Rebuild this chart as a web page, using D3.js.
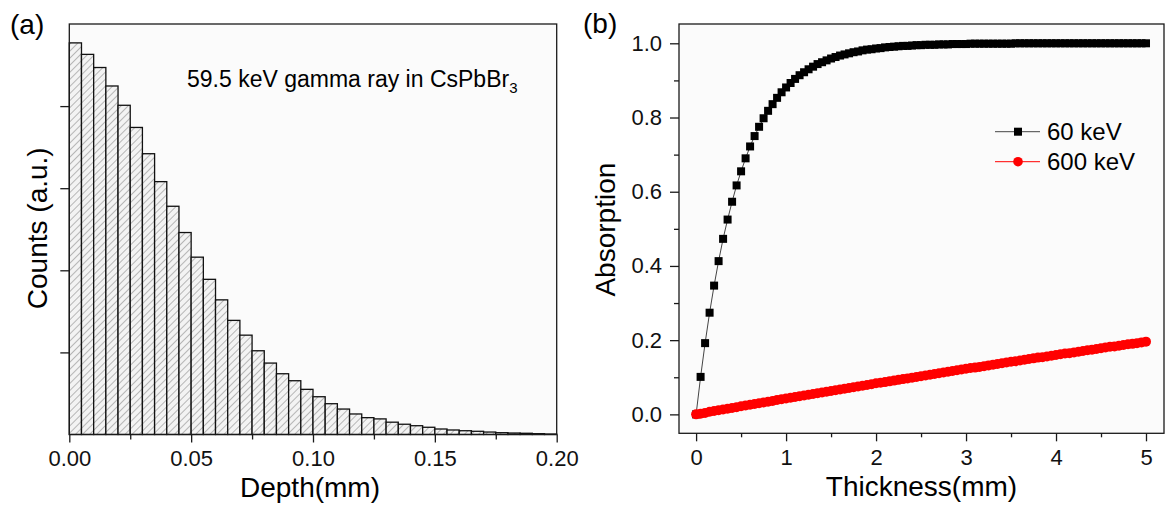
<!DOCTYPE html>
<html><head><meta charset="utf-8">
<script src="https://cdn.jsdelivr.net/npm/d3@7"></script>
<style>
html,body{margin:0;padding:0;background:#fff;}
svg{display:block;font-family:"Liberation Sans",Arial,sans-serif;}
</style></head><body>
<svg id="chart" width="1165" height="506"></svg>
<script>
// ---------- Panel (a) data ----------
const binWidth = 0.005;
const binStarts = d3.range(40).map(i => +(i * binWidth).toFixed(3));
const counts = [4.77, 4.63, 4.47, 4.245, 4.01, 3.74, 3.42, 3.08, 2.78, 2.46,
                2.16, 1.89, 1.64, 1.39, 1.21, 1.02, 0.87, 0.74, 0.655, 0.55,
                0.46, 0.375, 0.31, 0.25, 0.205, 0.19, 0.15, 0.125, 0.107, 0.088,
                0.067, 0.055, 0.046, 0.039, 0.030, 0.022, 0.018, 0.015, 0.010, 0.006];
const depthTicks = [0, 0.05, 0.10, 0.15, 0.20];
const depthMinorTicks = [0.025, 0.075, 0.125, 0.175];
const countTicks = [1, 2, 3, 4];

// ---------- Panel (b) data ----------
const thickness = d3.range(101).map(i => +(i * 0.05).toFixed(2));
const abs60 = [0, 0.101, 0.192, 0.274, 0.347, 0.413, 0.473, 0.525, 0.573, 0.617,
  0.655, 0.690, 0.722, 0.750, 0.775, 0.798, 0.818, 0.836, 0.853, 0.868,
  0.881, 0.893, 0.904, 0.914, 0.922, 0.930, 0.937, 0.944, 0.949, 0.954,
  0.959, 0.963, 0.967, 0.970, 0.973, 0.976, 0.978, 0.981, 0.983, 0.984,
  0.986, 0.987, 0.989, 0.990, 0.991, 0.992, 0.993, 0.993, 0.994, 0.995,
  0.995, 0.996, 0.996, 0.996, 0.997, 0.997, 0.997, 0.998, 0.998, 0.998,
  0.998, 0.999, 0.999, 0.999, 0.999, 0.999, 0.999, 0.999, 0.999, 0.999,
  0.999, 1.000, 1.000, 1.000, 1.000, 1.000, 1.000, 1.000, 1.000, 1.000,
  1.000, 1.000, 1.000, 1.000, 1.000, 1.000, 1.000, 1.000, 1.000, 1.000,
  1.000, 1.000, 1.000, 1.000, 1.000, 1.000, 1.000, 1.000, 1.000, 1.000, 1.000];
const abs600 = [0.000, 0.002, 0.004, 0.007, 0.009, 0.011, 0.013, 0.015, 0.017, 0.019,
  0.022, 0.024, 0.026, 0.028, 0.030, 0.032, 0.034, 0.036, 0.039, 0.041,
  0.043, 0.045, 0.047, 0.049, 0.051, 0.053, 0.055, 0.057, 0.059, 0.061,
  0.063, 0.065, 0.067, 0.069, 0.071, 0.073, 0.075, 0.077, 0.079, 0.081,
  0.084, 0.085, 0.087, 0.089, 0.091, 0.093, 0.095, 0.097, 0.099, 0.101,
  0.103, 0.105, 0.107, 0.109, 0.111, 0.113, 0.115, 0.117, 0.119, 0.121,
  0.123, 0.125, 0.126, 0.128, 0.130, 0.132, 0.134, 0.136, 0.138, 0.140,
  0.142, 0.143, 0.145, 0.147, 0.149, 0.151, 0.153, 0.154, 0.156, 0.158,
  0.160, 0.162, 0.164, 0.165, 0.167, 0.169, 0.171, 0.173, 0.174, 0.176,
  0.178, 0.180, 0.182, 0.183, 0.185, 0.187, 0.189, 0.190, 0.192, 0.194, 0.196];
const thickTicks = [0, 1, 2, 3, 4, 5];
const thickMinorTicks = [0.5, 1.5, 2.5, 3.5, 4.5];
const absTicks = [0.0, 0.2, 0.4, 0.6, 0.8, 1.0];
const absMinorTicks = [0.1, 0.3, 0.5, 0.7, 0.9];
const seriesNames = ["60 keV", "600 keV"];

// ---------- drawing ----------
const svg = d3.select("#chart");
const AX = "#1a1a1a";
const defs = svg.append("defs");
const pat = defs.append("pattern").attr("id", "hatch")
  .attr("patternUnits", "userSpaceOnUse").attr("width", 5).attr("height", 5)
  .attr("patternTransform", "rotate(45)");
pat.append("rect").attr("width", 5).attr("height", 5).attr("fill", "#f3f3f3");
pat.append("line").attr("x1", 0).attr("y1", 0).attr("x2", 0).attr("y2", 5)
  .attr("stroke", "#7a7a7a").attr("stroke-width", 1);

function styleAxis(g) {
  g.select(".domain").remove();
  g.selectAll(".tick line").attr("stroke", AX).attr("stroke-width", 1.3);
  g.selectAll("text").attr("fill", "#111");
}

// Panel (a)
const A = {l: 69.3, r: 556.7, t: 24, b: 434.5};
const xA = d3.scaleLinear().domain([0, 0.2]).range([A.l, A.r]);
const yA = d3.scaleLinear().domain([0, 5]).range([A.b, A.t]);
const gA = svg.append("g");
gA.append("rect").attr("x", A.l).attr("y", A.t).attr("width", A.r - A.l).attr("height", A.b - A.t)
  .attr("fill", "#fbfbfb");
gA.selectAll("rect.bar").data(counts).join("rect").attr("class", "bar")
  .attr("x", (d, i) => xA(binStarts[i]))
  .attr("width", (d, i) => xA(binStarts[i] + binWidth) - xA(binStarts[i]))
  .attr("y", d => yA(d))
  .attr("height", d => yA(0) - yA(d))
  .attr("fill", "url(#hatch)").attr("stroke", "#111").attr("stroke-width", 1.3);

const axA = gA.append("g").attr("transform", `translate(0,${A.b})`)
  .call(d3.axisBottom(xA).tickValues(depthTicks).tickFormat(d3.format(".2f")).tickSize(8).tickPadding(8))
  .call(styleAxis);
axA.selectAll("text").attr("font-size", 22);
gA.append("g").attr("transform", `translate(0,${A.b})`)
  .call(d3.axisBottom(xA).tickValues(depthMinorTicks).tickFormat("").tickSize(5)).call(styleAxis);
gA.append("g").attr("transform", `translate(${A.l},0)`)
  .call(d3.axisLeft(yA).tickValues(countTicks).tickFormat("").tickSize(9)).call(styleAxis);
gA.append("rect").attr("x", A.l).attr("y", A.t).attr("width", A.r - A.l).attr("height", A.b - A.t)
  .attr("fill", "none").attr("stroke", AX).attr("stroke-width", 1.3);

gA.append("text").attr("x", 10).attr("y", 34).attr("font-size", 28).text("(a)");
gA.append("text").attr("transform", `translate(47,${(A.t + A.b) / 2 - 1}) rotate(-90)`)
  .attr("text-anchor", "middle").attr("font-size", 28).text("Counts (a.u.)");
gA.append("text").attr("x", (A.l + A.r) / 2 - 3).attr("y", 497).attr("text-anchor", "middle")
  .attr("font-size", 28).text("Depth(mm)");
const ann = gA.append("text").attr("x", 187).attr("y", 87).attr("font-size", 23);
ann.append("tspan").text("59.5 keV gamma ray in CsPbBr");
ann.append("tspan").attr("font-size", 15).attr("dy", 6).text("3");

// Panel (b)
const B = {l: 679, r: 1164, t: 24, b: 433.3};
const xB = d3.scaleLinear().domain([-0.19, 5.2]).range([B.l, B.r]);
const yB = d3.scaleLinear().domain([-0.051, 1.052]).range([B.b, B.t]);
const gB = svg.append("g");
gB.append("rect").attr("x", B.l).attr("y", B.t).attr("width", B.r - B.l).attr("height", B.b - B.t)
  .attr("fill", "#fbfbfb");

const axBx = gB.append("g").attr("transform", `translate(0,${B.b})`)
  .call(d3.axisBottom(xB).tickValues(thickTicks).tickFormat(d3.format("d")).tickSize(8).tickPadding(8))
  .call(styleAxis);
axBx.selectAll("text").attr("font-size", 22);
gB.append("g").attr("transform", `translate(0,${B.b})`)
  .call(d3.axisBottom(xB).tickValues(thickMinorTicks).tickFormat("").tickSize(4)).call(styleAxis);
const axBy = gB.append("g").attr("transform", `translate(${B.l},0)`)
  .call(d3.axisLeft(yB).tickValues(absTicks).tickFormat(d3.format(".1f")).tickSize(9).tickPadding(8))
  .call(styleAxis);
axBy.selectAll("text").attr("font-size", 22);
gB.append("g").attr("transform", `translate(${B.l},0)`)
  .call(d3.axisLeft(yB).tickValues(absMinorTicks).tickFormat("").tickSize(5)).call(styleAxis);

const pts60 = thickness.map((t, i) => [t, abs60[i]]);
const pts600 = thickness.map((t, i) => [t, abs600[i]]);
const line = d3.line().x(d => xB(d[0])).y(d => yB(d[1]));
gB.append("path").attr("d", line(pts60)).attr("fill", "none").attr("stroke", "#444").attr("stroke-width", 1);
gB.selectAll("rect.sq").data(pts60).join("rect").attr("class", "sq")
  .attr("x", d => xB(d[0]) - 4).attr("y", d => yB(d[1]) - 4)
  .attr("width", 8).attr("height", 8).attr("fill", "#000");
gB.append("path").attr("d", line(pts600)).attr("fill", "none").attr("stroke", "#f00").attr("stroke-width", 1);
gB.selectAll("circle.ci").data(pts600).join("circle").attr("class", "ci")
  .attr("cx", d => xB(d[0])).attr("cy", d => yB(d[1])).attr("r", 5).attr("fill", "#f00");

gB.append("rect").attr("x", B.l).attr("y", B.t).attr("width", B.r - B.l).attr("height", B.b - B.t)
  .attr("fill", "none").attr("stroke", AX).attr("stroke-width", 1.3);

// legend
const leg = gB.append("g");
const legRows = [{y: 131.7, color: "#444", mark: "sq"}, {y: 161.7, color: "#f00", mark: "ci"}];
legRows.forEach((r, i) => {
  leg.append("line").attr("x1", 995).attr("x2", 1040).attr("y1", r.y).attr("y2", r.y)
    .attr("stroke", r.color).attr("stroke-width", 1);
  if (r.mark === "sq") leg.append("rect").attr("x", 1014).attr("y", r.y - 4).attr("width", 8).attr("height", 8).attr("fill", "#000");
  else leg.append("circle").attr("cx", 1018).attr("cy", r.y).attr("r", 4.8).attr("fill", "#f00");
  leg.append("text").attr("x", 1047).attr("y", r.y + 8.5).attr("font-size", 24).text(seriesNames[i]);
});

gB.append("text").attr("x", 583).attr("y", 33).attr("font-size", 28).text("(b)");
gB.append("text").attr("transform", `translate(615,${(B.t + B.b) / 2 + 1}) rotate(-90)`)
  .attr("text-anchor", "middle").attr("font-size", 28).text("Absorption");
gB.append("text").attr("x", (B.l + B.r) / 2).attr("y", 496).attr("text-anchor", "middle")
  .attr("font-size", 28).text("Thickness(mm)");
</script>
</body></html>
